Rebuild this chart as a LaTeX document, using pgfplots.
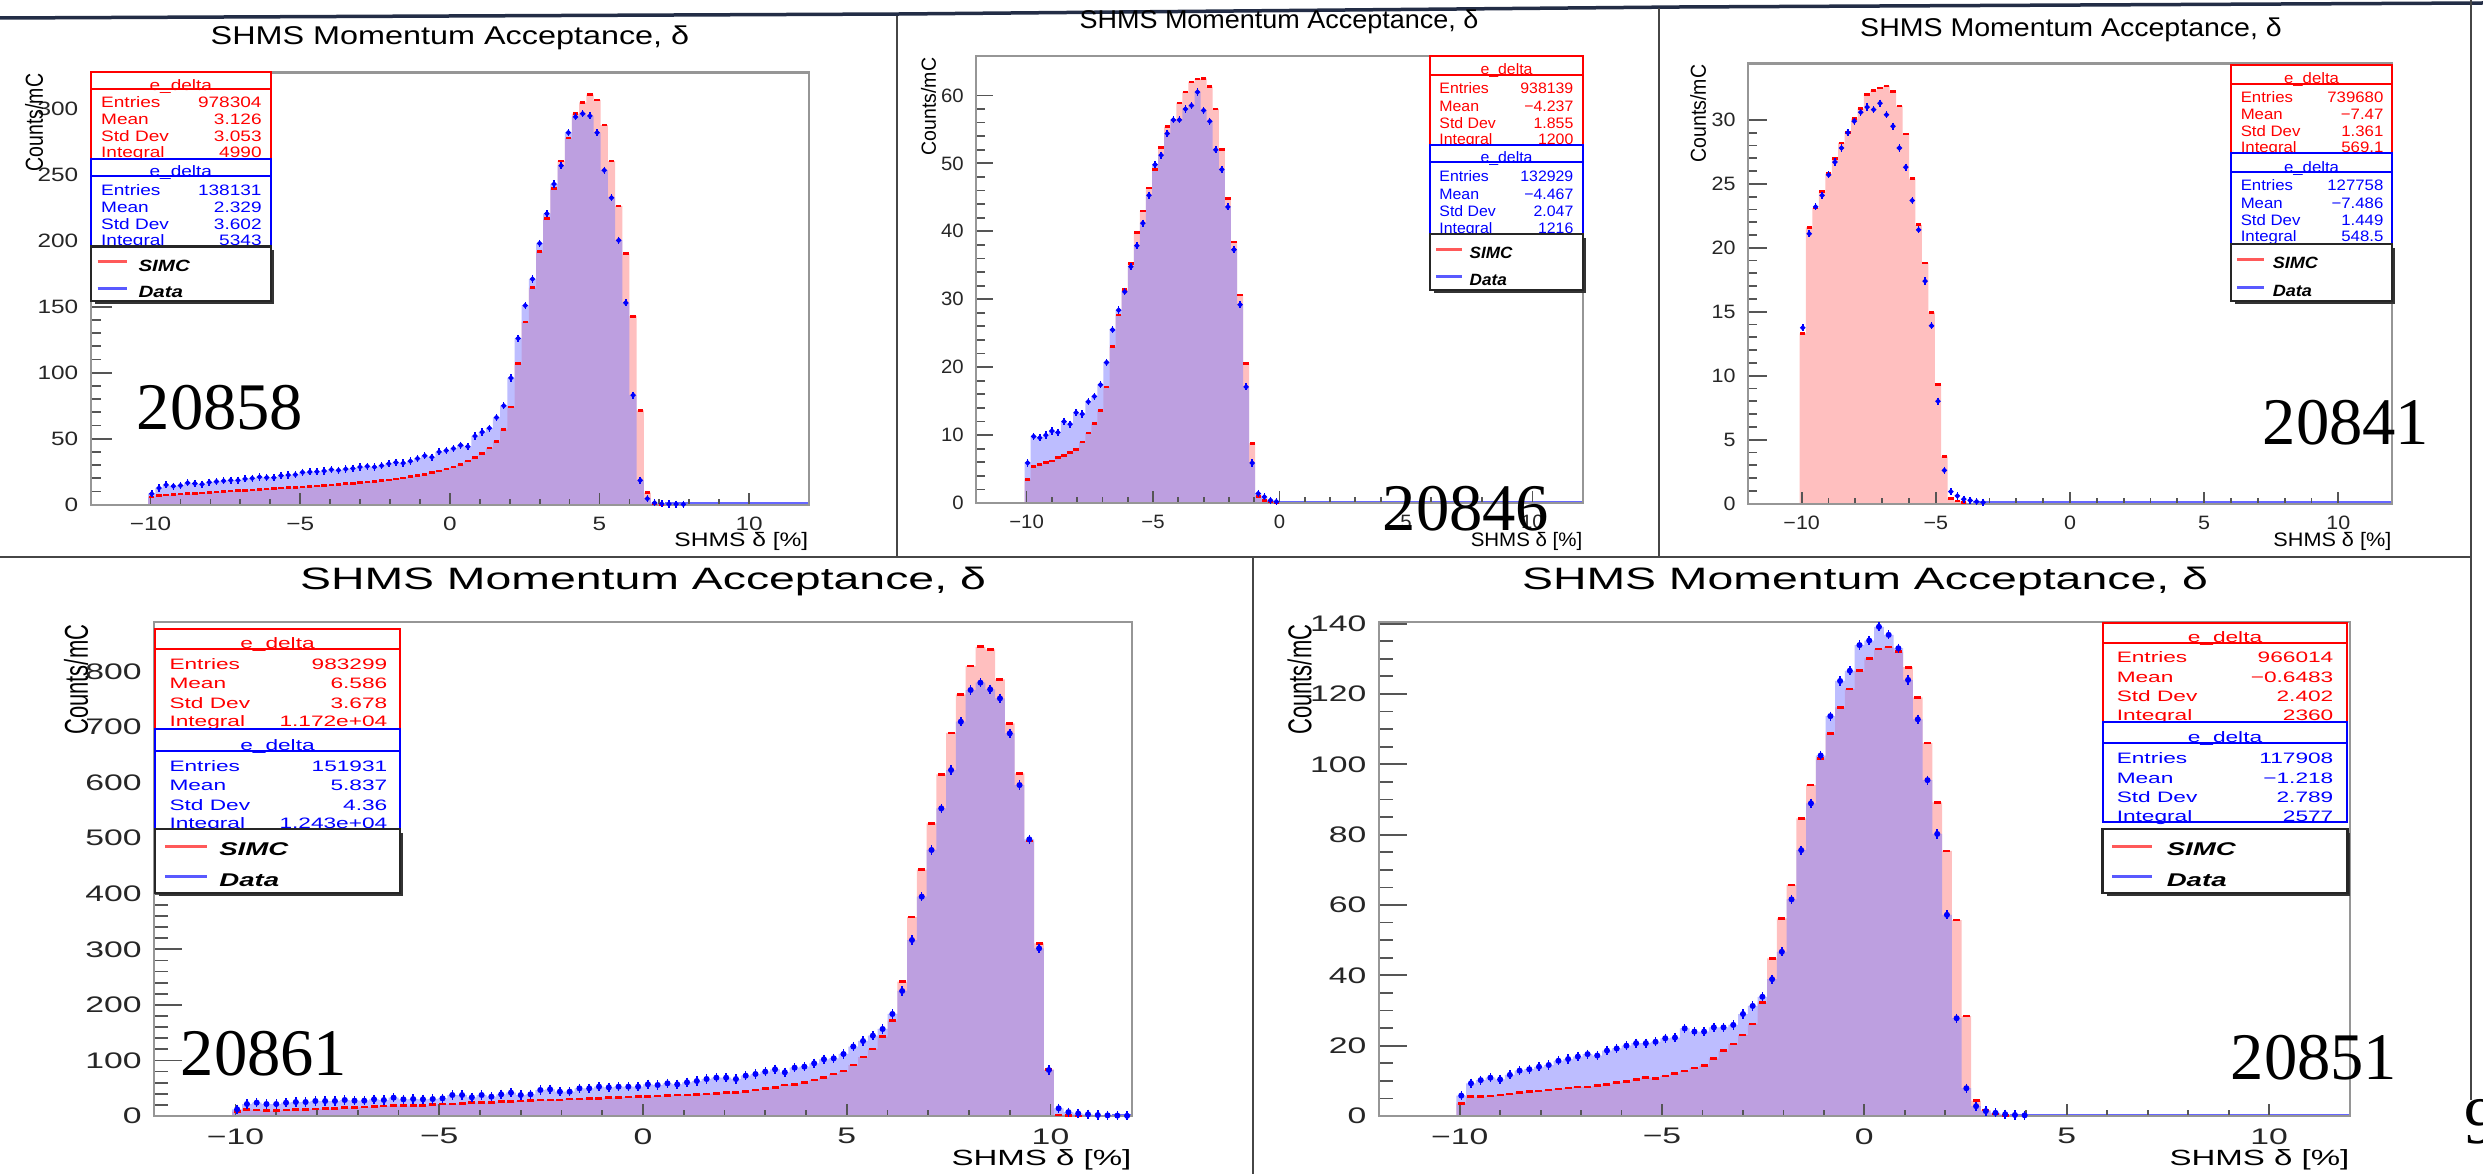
\documentclass[border=0pt]{standalone}
\usepackage{fontspec}
\usepackage{graphicx}
\usepackage{pgfplots}
\usepackage{pgfplotstable}
\pgfplotsset{compat=1.18}
\setmainfont{Liberation Sans}
% ROOT canvases were stretched sideways when pasted onto the slide
\newfontfamily\fA[FakeStretch=1.26]{Liberation Sans}
\newfontfamily\fB[FakeStretch=1.05]{Liberation Sans}
\newfontfamily\fC[FakeStretch=1.11]{Liberation Sans}
\newfontfamily\fD[FakeStretch=1.50]{Liberation Sans}
\newfontfamily\tnr{Liberation Serif}

\definecolor{datafill}{RGB}{132,132,255}
\definecolor{framegray}{RGB}{150,150,150}
\definecolor{tickgray}{RGB}{85,85,85}
\definecolor{slideline}{RGB}{35,45,70}
\definecolor{sepgray}{RGB}{70,70,70}

% bins of width 0.24 on [-12,12]; x = lower bin edge, s = SIMC, d = Data
\pgfplotstableread{
x s d
-10.08 5.8 8.3
-9.84 7.0 12.6
-9.60 7.3 15.0
-9.36 7.6 14.0
-9.12 7.9 14.5
-8.88 8.3 16.5
-8.64 8.6 16.0
-8.40 8.9 15.5
-8.16 9.2 17.0
-7.92 9.5 17.5
-7.68 9.9 18.0
-7.44 10.2 18.5
-7.20 10.5 18.5
-6.96 10.9 19.5
-6.72 11.2 20.0
-6.48 11.5 21.0
-6.24 11.8 20.5
-6.00 12.2 20.5
-5.76 12.5 22.0
-5.52 12.8 22.5
-5.28 13.1 22.7
-5.04 13.4 24.5
-4.80 13.8 24.8
-4.56 14.2 25.0
-4.32 14.6 25.5
-4.08 15.0 26.5
-3.84 15.4 26.0
-3.60 15.8 27.0
-3.36 16.2 27.5
-3.12 16.7 28.5
-2.88 17.2 29.0
-2.64 17.7 28.5
-2.40 18.2 29.5
-2.16 18.8 31.0
-1.92 19.5 32.0
-1.68 20.3 31.5
-1.44 21.2 33.0
-1.20 22.0 35.0
-0.96 23.0 37.0
-0.72 24.2 36.0
-0.48 25.5 40.0
-0.24 27.0 41.0
0.00 28.5 42.5
0.24 30.5 45.0
0.48 33.0 44.0
0.72 35.5 52.0
0.96 38.7 55.0
1.20 43.0 58.0
1.44 48.0 66.0
1.68 57.0 75.0
1.92 74.0 96.0
2.16 107.0 126.0
2.40 138.5 151.0
2.64 164.5 171.0
2.88 192.0 198.0
3.12 216.8 220.6
3.36 239.6 243.0
3.60 260.5 257.0
3.84 278.0 282.0
4.08 296.4 294.0
4.32 305.0 296.4
4.56 310.8 294.7
4.80 306.6 282.0
5.04 287.7 253.5
5.28 260.5 232.7
5.52 226.4 200.4
5.76 190.3 153.0
6.00 142.8 83.0
6.24 71.5 18.4
6.48 9.1 4.5
6.72 0.8 1.3
6.96 0.2 0.7
7.20 0 0.4
7.44 0 0.3
7.68 0 0.2
7.92 0 0
}\runA

\pgfplotstableread{
x s d
-10.08 3.5 5.9
-9.84 5.35 9.8
-9.60 5.7 9.6
-9.36 6.0 10.0
-9.12 6.2 10.6
-8.88 6.7 10.4
-8.64 7.0 12.0
-8.40 7.4 11.6
-8.16 7.9 13.3
-7.92 9.0 13.1
-7.68 10.3 14.9
-7.44 11.7 15.7
-7.20 13.6 17.4
-6.96 17.1 20.7
-6.72 23.0 25.5
-6.48 27.7 28.4
-6.24 31.4 31.1
-6.00 35.3 34.8
-5.76 39.8 37.9
-5.52 43.0 41.2
-5.28 46.4 45.3
-5.04 49.1 49.8
-4.80 52.3 51.2
-4.56 55.4 54.4
-4.32 56.4 56.4
-4.08 58.9 56.4
-3.84 60.5 58.0
-3.60 62.0 58.5
-3.36 62.4 60.5
-3.12 62.5 57.8
-2.88 61.3 56.2
-2.64 58.0 52.0
-2.40 52.0 49.1
-2.16 44.8 43.6
-1.92 38.4 37.3
-1.68 30.6 29.2
-1.44 20.5 17.1
-1.20 8.8 5.9
-0.96 1.0 1.4
-0.72 0.4 0.9
-0.48 0.2 0.4
-0.24 0.1 0.2
0.00 0 0
}\runB

\pgfplotstableread{
x s d
-10.08 13.3 13.75
-9.84 21.6 21.1
-9.60 23.1 23.2
-9.36 24.4 24.1
-9.12 25.8 25.7
-8.88 27.0 26.7
-8.64 28.2 27.8
-8.40 29.0 29.0
-8.16 30.1 29.9
-7.92 30.9 30.6
-7.68 32.0 31.0
-7.44 32.3 30.8
-7.20 32.5 31.3
-6.96 32.65 30.4
-6.72 32.2 29.5
-6.48 31.1 27.8
-6.24 28.9 26.3
-6.00 25.4 23.7
-5.76 21.8 21.4
-5.52 18.8 17.4
-5.28 14.95 13.9
-5.04 9.3 8.0
-4.80 3.7 2.6
-4.56 0.41 0.93
-4.32 0.2 0.6
-4.08 0.1 0.35
-3.84 0 0.25
-3.60 0 0.15
-3.36 0 0.1
-3.12 0 0
}\runC

\pgfplotstableread{
x s d
-10.08 7.8 12
-9.84 12 21.6
-9.60 11 24
-9.36 9.6 21.6
-9.12 9.6 21.6
-8.88 11 24
-8.64 12 25.2
-8.40 12 25.2
-8.16 12.6 27
-7.92 13.2 27
-7.68 13.8 27
-7.44 15 28.8
-7.20 15.6 27.6
-6.96 16.2 27.6
-6.72 16.8 30
-6.48 18 28.8
-6.24 18.6 33
-6.00 18.6 30
-5.76 18.6 30.6
-5.52 18.6 30
-5.28 21 30.6
-5.04 21.6 31.8
-4.80 21.6 37.8
-4.56 22.8 37.8
-4.32 24.6 33.6
-4.08 24 37.8
-3.84 24.6 34.8
-3.60 25.8 39
-3.36 25.8 42
-3.12 27 37.8
-2.88 28.2 39
-2.64 28.8 46.8
-2.40 28.8 48
-2.16 28.8 43.8
-1.92 30.6 43.8
-1.68 30.6 49.8
-1.44 31.8 49.8
-1.20 31.8 52.8
-0.96 33 51.6
-0.72 33.6 52.8
-0.48 34.2 52.8
-0.24 34.8 52.8
0.00 34.8 57
0.24 36 55.8
0.48 36.6 58.8
0.72 37.8 57
0.96 37.8 60.6
1.20 39 63
1.44 39.6 66.6
1.68 40.8 69
1.92 42 69
2.16 42.6 66.6
2.40 44.4 72.6
2.64 46.8 75.6
2.88 49.8 79.8
3.12 51.6 84
3.36 55.8 78.6
3.60 57 87
3.84 60 88.8
4.08 64.8 94.8
4.32 69.6 102
4.56 75.6 103.8
4.80 81 111.6
5.04 91.8 125
5.28 106 135
5.52 120.7 144.6
5.76 143 156.6
6.00 171.8 183.6
6.24 242 225
6.48 357.8 316.7
6.72 443.6 394.7
6.96 526.5 478.7
7.20 614.7 553.6
7.44 689.6 622.6
7.68 758.6 709.6
7.92 809.6 766.6
8.16 844.4 779.8
8.40 839.6 767.8
8.64 785.6 751.6
8.88 706.4 688.6
9.12 616.5 595.6
9.36 494.7 497.9
9.60 310.5 301.7
9.84 84 82.8
10.08 2 13.8
10.32 0.5 7
10.56 0.2 4.5
10.80 0 3
11.04 0 1.8
11.28 0 1.2
11.52 0 0.8
11.76 0 0.4
12.00 0 0
}\runD

\pgfplotstableread{
x s d
-10.08 3.6 5.8
-9.84 5.5 9.3
-9.60 5.5 10.2
-9.36 5.7 10.9
-9.12 6.0 10.4
-8.88 6.3 11.7
-8.64 6.7 12.9
-8.40 6.9 13.3
-8.16 7.1 14.0
-7.92 7.4 14.5
-7.68 7.7 15.7
-7.44 8.0 16.2
-7.20 8.3 16.9
-6.96 8.2 17.6
-6.72 8.6 17.2
-6.48 9.0 18.6
-6.24 9.5 19.2
-6.00 9.8 20.0
-5.76 10.4 20.7
-5.52 11.0 20.7
-5.28 10.7 21.1
-5.04 11.4 22.1
-4.80 12.1 22.3
-4.56 12.8 24.9
-4.32 13.7 24.0
-4.08 14.3 24.0
-3.84 16.4 25.2
-3.60 18.6 25.2
-3.36 20.5 25.9
-3.12 23.0 29.0
-2.88 26.2 31.3
-2.64 32.3 33.9
-2.40 44.8 38.9
-2.16 56.2 46.7
-1.92 65.7 61.6
-1.68 84.6 75.6
-1.44 94.1 88.9
-1.20 101.7 102.5
-0.96 108.8 113.7
-0.72 116.2 123.7
-0.48 121.4 126.6
-0.24 126.6 133.9
0.00 130.1 135.2
0.24 132.8 139.1
0.48 133.3 136.8
0.72 132.0 133.0
0.96 127.6 124.0
1.20 119.0 112.8
1.44 106.1 95.5
1.68 89.2 80.2
1.92 75.4 57.2
2.16 55.7 27.8
2.40 28.4 7.9
2.64 4.4 2.8
2.88 1.7 1.4
3.12 0.6 0.9
3.36 0.2 0.5
3.60 0 0.3
3.84 0 0.2
4.08 0 0
}\runE

\pgfplotsset{
  rootframe/.style={
    scale only axis, anchor=south west,
    xmin=-12, xmax=12, ymin=0,
    axis on top, tick pos=left,
    xtick={-10,-5,0,5,10}, xticklabels={−10,−5,0,5,10},
    minor x tick num=4,
    axis line style={framegray, line width=0.22mm},
    every tick/.style={tickgray, line width=0.18mm},
    xtick style={/pgfplots/major tick length=1.2mm, /pgfplots/minor tick length=0.6mm},
    tick label style={text=black!85},
    /pgf/number format/assume math mode=true,
    scaled y ticks=false,
  },
}

% histogram fills and markers
\newcommand\simcfill[1]{\addplot[const plot, draw=none, fill=red, fill opacity=0.25] table[x=x,y=s]{#1} \closedcycle;}
\newcommand\datafill[1]{\addplot[const plot, draw=none, fill=datafill, fill opacity=0.53] table[x=x,y=d]{#1} \closedcycle;}
\newcommand\histmarks[4]{%
  \addplot[only marks, mark=-, mark size=#2, red, line width=0.26mm, restrict y to domain=0.05:5000]
    table[x expr=\thisrow{x}+0.12, y=s]{#1};
  \addplot[only marks, mark=|, mark size=#4, blue, line width=0.15mm, restrict y to domain=0.05:5000]
    table[x expr=\thisrow{x}+0.12, y=d]{#1};
  \addplot[only marks, mark=*, mark size=#3, blue, restrict y to domain=0.05:5000]
    table[x expr=\thisrow{x}+0.12, y=d]{#1};
}

% stats boxes and legends
\newcommand\statframe[7]{%
  \draw[#1, line width=0.2mm, fill=white] (#2,#4) rectangle (#3,#7);
  \draw[#1, line width=0.2mm] (#2,#6) -- (#3,#6);
  \node[text=#1, font=\curfont, anchor=mid, inner sep=0] at ({(#2+#3)/2},#5) {e\_delta};}
\newcommand\statrow[6]{%
  \node[text=#1, font=\curfont, anchor=mid west, inner sep=0] at (#2,#4) {#5};
  \node[text=#1, font=\curfont, anchor=mid east, inner sep=0] at (#3,#4) {#6};}
\newcommand\rootlegend[9]{%
  \fill[black!80] (#1+4,#4) rectangle (#2+3,#4+3);
  \fill[black!80] (#2,#3+4) rectangle (#2+3,#4+3);
  \draw[black!85, line width=0.22mm, fill=white] (#1,#3) rectangle (#2,#4);
  \draw[red!65, line width=0.3mm] (#5,#8) -- (#6,#8);
  \draw[blue!65, line width=0.3mm] (#5,#9) -- (#6,#9);
  \node[font=\curlegfont, anchor=mid west, inner sep=0] at (#7,#8) {SIMC};
  \node[font=\curlegfont, anchor=mid west, inner sep=0] at (#7,#9) {Data};}

\begin{document}
\begin{tikzpicture}
\path[use as bounding box] (0,0) rectangle (248.3mm,117.4mm);
\fill[white] (0,0) rectangle (248.3mm,117.4mm);

% ---- run 20858
\begin{axis}[rootframe, at={(9.07mm,66.94mm)}, width=71.83mm, height=43.21mm,
  ymax=327.6, ytick={0,50,...,300}, minor y tick num=4,
  ytick style={/pgfplots/major tick length=2.1mm, /pgfplots/minor tick length=1.05mm},
  tick label style={font=\fA\fontsize{5.5}{6}\selectfont}]
  \simcfill{\runA}
  \datafill{\runA}
  \addplot[blue!60, line width=0.45mm] coordinates {(7.2,0) (12,0)};
  \histmarks{\runA}{0.27mm}{0.19mm}{0.36mm}
\end{axis}

% ---- run 20846
\begin{axis}[rootframe, at={(97.6mm,67.1mm)}, width=60.7mm, height=44.7mm,
  ymax=65.8, ytick={0,10,...,60}, minor y tick num=4,
  ytick style={/pgfplots/major tick length=1.7mm, /pgfplots/minor tick length=0.85mm},
  tick label style={font=\fB\fontsize{5.5}{6}\selectfont}]
  \simcfill{\runB}
  \datafill{\runB}
  \addplot[blue!60, line width=0.45mm] coordinates {(-0.5,0) (12,0)};
  \histmarks{\runB}{0.27mm}{0.19mm}{0.36mm}
\end{axis}

% ---- run 20841
\begin{axis}[rootframe, at={(174.8mm,67.04mm)}, width=64.4mm, height=44.0mm,
  ymax=34.4, ytick={0,5,...,30}, minor y tick num=4,
  ytick style={/pgfplots/major tick length=1.85mm, /pgfplots/minor tick length=0.9mm},
  tick label style={font=\fC\fontsize{5.5}{6}\selectfont}]
  \simcfill{\runC}
  \addplot[blue!60, line width=0.45mm] coordinates {(-3.6,0) (12,0)};
  \histmarks{\runC}{0.27mm}{0.19mm}{0.36mm}
\end{axis}

% ---- run 20861
\begin{axis}[rootframe, at={(15.4mm,5.8mm)}, width=97.8mm, height=49.4mm,
  ymax=889, ytick={0,100,...,800}, minor y tick num=4,
  ytick style={/pgfplots/major tick length=2.8mm, /pgfplots/minor tick length=1.4mm},
  tick label style={font=\fD\fontsize{6.4}{7}\selectfont}]
  \simcfill{\runD}
  \datafill{\runD}
  \addplot[blue!60, line width=0.45mm] coordinates {(11.5,0) (12,0)};
  \histmarks{\runD}{0.35mm}{0.23mm}{0.46mm}
\end{axis}

% ---- run 20851
\begin{axis}[rootframe, at={(137.87mm,5.8mm)}, width=97.13mm, height=49.4mm,
  ymax=140.46, ytick={0,20,...,140}, minor y tick num=3,
  ytick style={/pgfplots/major tick length=2.8mm, /pgfplots/minor tick length=1.4mm},
  tick label style={font=\fD\fontsize{6.4}{7}\selectfont}]
  \simcfill{\runE}
  \datafill{\runE}
  \addplot[blue!60, line width=0.45mm] coordinates {(3.6,0) (12,0)};
  \histmarks{\runE}{0.35mm}{0.23mm}{0.46mm}
\end{axis}

\begin{scope}[x=0.1mm, y=-0.1mm, shift={(0,117.4mm)}]
  % slide rules and panel separators
  \draw[slideline, line width=0.35mm] (0,18) -- (900,14) -- (1680,7) -- (2483,3);
  \draw[sepgray, line width=0.2mm] (897,16) -- (897,557);
  \draw[sepgray, line width=0.2mm] (1659,8) -- (1659,557);
  \draw[sepgray, line width=0.2mm] (0,557) -- (2471,557);
  \draw[sepgray, line width=0.2mm] (1253,557) -- (1253,1174);
  \draw[sepgray, line width=0.2mm] (2471,0) -- (2471,1100);

  % ===== panel 20858
  \node[font=\fA\fontsize{7.31}{8}\selectfont, anchor=mid, inner sep=0] at (450,35.7) {SHMS Momentum Acceptance, δ};
  \node[rotate=90, anchor=east, inner sep=0] at (34,73) {\scalebox{1}[1.26]{\fontsize{5.55}{6}\selectfont Counts/mC}};
  \node[font=\fA\fontsize{5.55}{6}\selectfont, anchor=mid east, inner sep=0] at (809,537.5) {SHMS δ [\%]};
  \def\curfont{\fA\fontsize{4.3}{5}\selectfont}
  \def\curlegfont{\fA\fontsize{4.64}{5}\selectfont\bfseries\itshape}
  \statframe{red}{90.7}{271}{72.5}{81}{88.6}{159}
  \statrow{red}{100.5}{262.3}{98.5}{Entries}{978304}
  \statrow{red}{100.5}{262.3}{115.5}{Mean}{3.126}
  \statrow{red}{100.5}{262.3}{132.5}{Std Dev}{3.053}
  \statrow{red}{100.5}{262.3}{148.5}{Integral}{4990}
  \statframe{blue}{90.7}{271}{159}{167.5}{176}{246.4}
  \statrow{blue}{100.5}{262.3}{186}{Entries}{138131}
  \statrow{blue}{100.5}{262.3}{203}{Mean}{2.329}
  \statrow{blue}{100.5}{262.3}{220}{Std Dev}{3.602}
  \statrow{blue}{100.5}{262.3}{236}{Integral}{5343}
  \rootlegend{90.7}{271}{246.4}{301}{97.6}{127.4}{137.8}{261.8}{288.6}
  \node[font=\tnr\fontsize{18.95}{20}\selectfont, anchor=base west, inner sep=0] at (136,429) {20858};

  % ===== panel 20846
  \node[font=\fB\fontsize{7.31}{8}\selectfont, anchor=mid, inner sep=0] at (1279,19) {SHMS Momentum Acceptance, δ};
  \node[rotate=90, anchor=east, inner sep=0] at (928.5,57) {\scalebox{1}[1.05]{\fontsize{5.55}{6}\selectfont Counts/mC}};
  \node[font=\fB\fontsize{5.55}{6}\selectfont, anchor=mid east, inner sep=0] at (1583,537.5) {SHMS δ [\%]};
  \def\curfont{\fB\fontsize{4.3}{5}\selectfont}
  \def\curlegfont{\fB\fontsize{4.64}{5}\selectfont\bfseries\itshape}
  \statframe{red}{1430}{1583}{56}{65.4}{75}{144.6}
  \statrow{red}{1438.7}{1574}{84.5}{Entries}{938139}
  \statrow{red}{1438.7}{1574}{102}{Mean}{−4.237}
  \statrow{red}{1438.7}{1574}{119}{Std Dev}{1.855}
  \statrow{red}{1438.7}{1574}{135.5}{Integral}{1200}
  \statframe{blue}{1430}{1583}{144.6}{153.6}{162.5}{234}
  \statrow{blue}{1438.7}{1574}{172.5}{Entries}{132929}
  \statrow{blue}{1438.7}{1574}{190.5}{Mean}{−4.467}
  \statrow{blue}{1438.7}{1574}{207.5}{Std Dev}{2.047}
  \statrow{blue}{1438.7}{1574}{224.5}{Integral}{1216}
  \rootlegend{1430}{1583}{234}{290}{1436}{1462}{1469}{249}{276}
  \node[font=\tnr\fontsize{18.95}{20}\selectfont, anchor=base west, inner sep=0] at (1382,530) {20846};

  % ===== panel 20841
  \node[font=\fC\fontsize{7.31}{8}\selectfont, anchor=mid, inner sep=0] at (2071,27) {SHMS Momentum Acceptance, δ};
  \node[rotate=90, anchor=east, inner sep=0] at (1698,64) {\scalebox{1}[1.11]{\fontsize{5.55}{6}\selectfont Counts/mC}};
  \node[font=\fC\fontsize{5.55}{6}\selectfont, anchor=mid east, inner sep=0] at (2392,537.5) {SHMS δ [\%]};
  \def\curfont{\fC\fontsize{4.3}{5}\selectfont}
  \def\curlegfont{\fC\fontsize{4.64}{5}\selectfont\bfseries\itshape}
  \statframe{red}{2231}{2392}{65.4}{74.5}{84}{152.9}
  \statrow{red}{2240}{2384}{93}{Entries}{739680}
  \statrow{red}{2240}{2384}{110}{Mean}{−7.47}
  \statrow{red}{2240}{2384}{127}{Std Dev}{1.361}
  \statrow{red}{2240}{2384}{143}{Integral}{569.1}
  \statframe{blue}{2231}{2392}{152.9}{163.2}{172.5}{244}
  \statrow{blue}{2240}{2384}{181.6}{Entries}{127758}
  \statrow{blue}{2240}{2384}{199}{Mean}{−7.486}
  \statrow{blue}{2240}{2384}{216}{Std Dev}{1.449}
  \statrow{blue}{2240}{2384}{232.5}{Integral}{548.5}
  \rootlegend{2231}{2392}{244}{301}{2237}{2264}{2272}{259.6}{287.5}
  \node[font=\tnr\fontsize{18.95}{20}\selectfont, anchor=base west, inner sep=0] at (2262,444) {20841};

  % ===== panel 20861
  \node[font=\fD\fontsize{8.8}{9}\selectfont, anchor=mid, inner sep=0] at (643,580.4) {SHMS Momentum Acceptance, δ};
  \node[rotate=90, anchor=east, inner sep=0] at (76,624) {\scalebox{1}[1.5]{\fontsize{6.26}{7}\selectfont Counts/mC}};
  \node[font=\fD\fontsize{6.26}{7}\selectfont, anchor=mid east, inner sep=0] at (1132,1156.6) {SHMS δ [\%]};
  \def\curfont{\fD\fontsize{4.3}{5}\selectfont}
  \def\curlegfont{\fD\fontsize{5.24}{6}\selectfont\bfseries\itshape}
  \statframe{red}{155}{400}{629}{639}{649}{728.8}
  \statrow{red}{168.8}{388}{660}{Entries}{983299}
  \statrow{red}{168.8}{388}{679.5}{Mean}{6.586}
  \statrow{red}{168.8}{388}{699}{Std Dev}{3.678}
  \statrow{red}{168.8}{388}{717.5}{Integral}{1.172e+04}
  \statframe{blue}{155}{400}{728.8}{741}{751}{829}
  \statrow{blue}{168.8}{388}{762}{Entries}{151931}
  \statrow{blue}{168.8}{388}{781.3}{Mean}{5.837}
  \statrow{blue}{168.8}{388}{800.8}{Std Dev}{4.36}
  \statrow{blue}{168.8}{388}{819.3}{Integral}{1.243e+04}
  \rootlegend{155}{400}{829}{893}{165}{207}{218.6}{846}{876.8}
  \node[font=\tnr\fontsize{18.95}{20}\selectfont, anchor=base west, inner sep=0] at (180,1075) {20861};

  % ===== panel 20851
  \node[font=\fD\fontsize{8.8}{9}\selectfont, anchor=mid, inner sep=0] at (1865,580.4) {SHMS Momentum Acceptance, δ};
  \node[rotate=90, anchor=east, inner sep=0] at (1299.5,624) {\scalebox{1}[1.5]{\fontsize{6.26}{7}\selectfont Counts/mC}};
  \node[font=\fD\fontsize{6.26}{7}\selectfont, anchor=mid east, inner sep=0] at (2350,1156.6) {SHMS δ [\%]};
  \def\curfont{\fD\fontsize{4.3}{5}\selectfont}
  \def\curlegfont{\fD\fontsize{5.24}{6}\selectfont\bfseries\itshape}
  \statframe{red}{2102.5}{2347.4}{623}{633}{643}{722}
  \statrow{red}{2116}{2334}{653.5}{Entries}{966014}
  \statrow{red}{2116}{2334}{673}{Mean}{−0.6483}
  \statrow{red}{2116}{2334}{692.3}{Std Dev}{2.402}
  \statrow{red}{2116}{2334}{711}{Integral}{2360}
  \statframe{blue}{2102.5}{2347.4}{722}{733}{743}{822.2}
  \statrow{blue}{2116}{2334}{754.3}{Entries}{117908}
  \statrow{blue}{2116}{2334}{774}{Mean}{−1.218}
  \statrow{blue}{2116}{2334}{793.3}{Std Dev}{2.789}
  \statrow{blue}{2116}{2334}{812}{Integral}{2577}
  \rootlegend{2102.5}{2347.4}{829}{893}{2112}{2152}{2166}{846}{876.8}
  \node[font=\tnr\fontsize{18.95}{20}\selectfont, anchor=base west, inner sep=0] at (2230,1079) {20851};

  % slide page number, partly off the page
  \node[font=\tnr\fontsize{18.95}{20}\selectfont, anchor=base west, inner sep=0] at (2464,1143) {9};
\end{scope}
\end{tikzpicture}
\end{document}
